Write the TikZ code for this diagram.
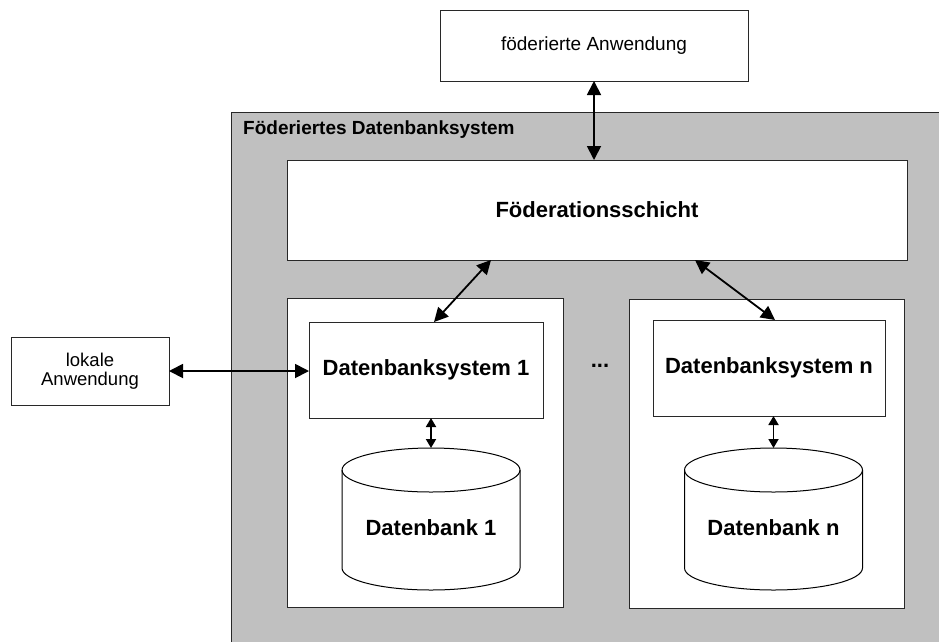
\documentclass[tikz,border=0pt]{standalone}
\usepackage{fontspec}
\setmainfont{Liberation Sans}
\usetikzlibrary{arrows.meta,calc}

\definecolor{panelgray}{RGB}{192,192,192}
\definecolor{edge}{RGB}{40,40,40}

\tikzset{
  box/.style={draw=edge, fill=white, line width=1pt, inner sep=0pt, outer sep=0pt},
  bigbold/.style={font=\fontsize{22}{26}\selectfont\bfseries},
  plain/.style={font=\fontsize{19}{23}\selectfont},
  conn/.style={line width=1.8pt,
    {Triangle[length=14pt,width=14pt]}-{Triangle[length=14pt,width=14pt]}},
  shortconn/.style={line width=1.8pt,
    {Triangle[length=9pt,width=10pt]}-{Triangle[length=9pt,width=10pt]}},
  dbshape/.style={draw=black, fill=white, line width=1pt},
}

\begin{document}
\begin{tikzpicture}[x=1pt,y=-1pt]
\useasboundingbox (0,0) rectangle (939,641);
\clip (0,0) rectangle (939,641);

% federated application on top
\node[box, plain, minimum width=308pt, minimum height=71pt] (fed) at (594,45.5) {föderierte Anwendung};

% the federated database system (grey panel)
\path[fill=panelgray, draw=edge, line width=1pt] (231,112) rectangle (960,660);
\node[anchor=west, inner sep=0pt, font=\fontsize{19}{23}\selectfont\bfseries] (fdbs) at (243,130) {Föderiertes Datenbanksystem};

% federation layer
\node[box, bigbold, minimum width=620pt, minimum height=100pt] (fs) at (597,210) {Föderationsschicht};

% component systems
\node[box, minimum width=276pt, minimum height=309pt] (sys1) at (425,452.5) {};
\node[box, minimum width=275pt, minimum height=309pt] (sysn) at (766.5,453.5) {};

\node[box, bigbold, minimum width=234pt, minimum height=96pt] (dbs1) at (426,370) {Datenbanksystem 1};
\node[box, bigbold, minimum width=232pt, minimum height=96pt] (dbsn) at (769,368) {Datenbanksystem n};

\node[bigbold, inner sep=0pt] (dots) at (600,366) {...};

% databases drawn as cylinders
\foreach \cx/\nm in {431/1, 773.5/n} {
  \path[dbshape] (\cx-89,470) -- (\cx-89,568)
    arc[start angle=180, end angle=360, x radius=89pt, y radius=22pt]
    -- (\cx+89,470)
    arc[start angle=0, end angle=180, x radius=89pt, y radius=22pt] -- cycle;
  \draw[line width=1pt] (\cx-89,470)
    arc[start angle=180, end angle=360, x radius=89pt, y radius=22pt];
  \coordinate (top\nm) at (\cx,448);
}
\node[bigbold, inner sep=0pt] (db1) at (431,528) {Datenbank 1};
\node[bigbold, inner sep=0pt] (dbn) at (773.5,528) {Datenbank n};

% local application
\node[box, align=center, font=\fontsize{18.5}{19}\selectfont, minimum width=158pt, minimum height=68pt] (lok) at (90,371) {lokale\\Anwendung};

% connectors
\draw[conn] (fed.south) -- (fed.south |- fs.north);
\draw[conn] ([xshift=-106pt]fs.south) -- ([xshift=8pt]dbs1.north);
\draw[conn] ([xshift=98pt]fs.south) -- ([xshift=6pt]dbsn.north);
\draw[conn] (lok.east) -- (lok.east -| dbs1.west);
\draw[shortconn] (dbs1.south -| top1) -- (top1);
\draw[shortconn] (dbsn.south -| topn) -- (topn);
\end{tikzpicture}
\end{document}
